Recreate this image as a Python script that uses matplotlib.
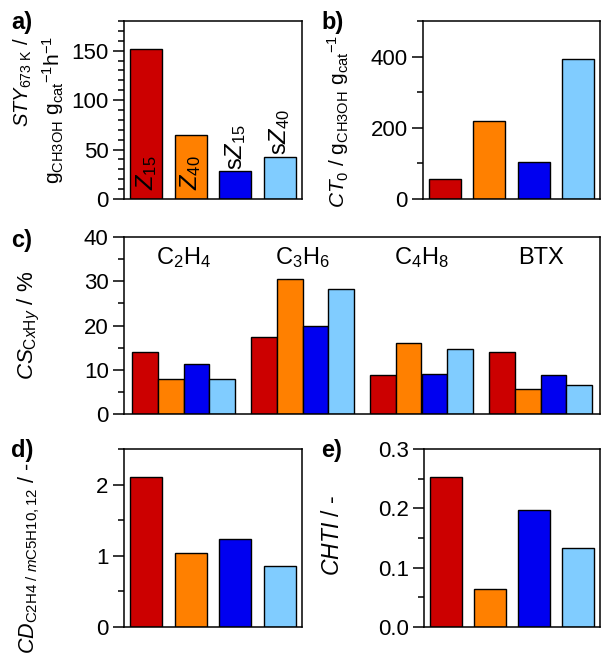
import matplotlib
matplotlib.use('Agg')
import matplotlib.pyplot as plt
import numpy as np

plt.rcParams['font.family'] = 'Liberation Sans'
plt.rcParams['mathtext.fontset'] = 'custom'
plt.rcParams['mathtext.rm'] = 'Liberation Sans'
plt.rcParams['mathtext.it'] = 'Liberation Sans:italic'
plt.rcParams['mathtext.bf'] = 'Liberation Sans:bold'

# ─── data ───
catalysts = ['Z15', 'Z40', 'sZ15', 'sZ40']
bar_labels = [r'$\mathit{Z}_{15}$', r'$\mathit{Z}_{40}$', r's$\mathit{Z}_{15}$', r's$\mathit{Z}_{40}$']
sty = [152, 65, 28, 42.5]          # a) STY_673K
ct0 = [56, 218, 103, 393]          # b) CT_0
products = [r'C$_2$H$_4$', r'C$_3$H$_6$', r'C$_4$H$_8$', 'BTX']
cs_z15 = [13.9, 17.5, 8.9, 13.9]   # c) carbon selectivity per product
cs_z40 = [8.0, 30.6, 16.0, 5.7]
cs_sz15 = [11.4, 20.0, 9.0, 8.9]
cs_sz40 = [7.8, 28.2, 14.8, 6.6]
cd = [2.10, 1.04, 1.23, 0.85]      # d) CD ratio
chti = [0.252, 0.064, 0.198, 0.133]  # e) CHTI

COLORS = ['#cc0000', '#ff8000', '#0000f0', '#80ccff']

W, H = 601, 656
fig = plt.figure(figsize=(W / 100, H / 100), dpi=100)


def px_axes(x0, y0, x1, y1):
    return fig.add_axes([x0 / W, 1 - y1 / H, (x1 - x0) / W, (y1 - y0) / H])


def style(ax, ylim, major, minor):
    ax.set_ylim(*ylim)
    ax.set_yticks(np.arange(ylim[0], ylim[1] + 1e-9, major))
    ax.set_yticks(np.arange(ylim[0], ylim[1] + 1e-9, minor), minor=True)
    ax.set_xticks([])
    ax.tick_params(axis='y', which='major', direction='out', length=8, width=1.1, labelsize=16, pad=3)
    ax.tick_params(axis='y', which='minor', direction='out', length=4, width=1.1)
    for s in ax.spines.values():
        s.set_linewidth(1.1)


def simple_bars(ax, vals):
    x = np.arange(len(vals))
    ax.bar(x, vals, width=0.72, color=COLORS, edgecolor='black', linewidth=1.0, zorder=2)
    ax.set_xlim(-0.5, len(vals) - 0.5)


# ─── a) ───
ax_a = px_axes(124, 21, 302, 199)
simple_bars(ax_a, sty)
style(ax_a, (0, 180), 50, 10)
ax_a.set_yticks([0, 50, 100, 150])
for i, (lab, v) in enumerate(zip(bar_labels, sty)):
    if i < 2:
        ax_a.text(i, 9, lab, rotation=90, ha='center', va='bottom', fontsize=17, zorder=3)
    else:
        ax_a.text(i, v + 1.5, lab, rotation=90, ha='center', va='bottom', fontsize=17, zorder=3)
fig.text(23 / W, 1 - 82 / H, r'$\mathit{STY}_{\mathrm{673\ K}}$ /', rotation=90,
         ha='center', va='center', fontsize=14.5)
fig.text(53 / W, 1 - 110 / H, r'g$_{\mathrm{CH3OH}}$ g$_{\mathrm{cat}}$$^{\mathrm{-1}}$h$^{\mathrm{-1}}$',
         rotation=90, ha='center', va='center', fontsize=15)

# ─── b) ───
ax_b = px_axes(423, 21, 600, 199)
simple_bars(ax_b, ct0)
style(ax_b, (0, 500), 200, 100)
ax_b.set_yticks([0, 200, 400])
fig.text(338 / W, 1 - 121 / H, r'$\mathit{CT}_0$ / g$_{\mathrm{CH3OH}}$ g$_{\mathrm{cat}}$$^{\mathrm{-1}}$',
         rotation=90, ha='center', va='center', fontsize=15)

# ─── c) ───
ax_c = px_axes(124, 237, 600, 414)
bw = 0.216
xg = np.arange(len(products))
for k, series in enumerate([cs_z15, cs_z40, cs_sz15, cs_sz40]):
    ax_c.bar(xg + (k - 1.5) * bw, series, width=bw, color=COLORS[k],
             edgecolor='black', linewidth=1.0, zorder=2)
ax_c.set_xlim(-0.5, 3.5)
style(ax_c, (0, 40), 10, 5)
for i, p in enumerate(products):
    ax_c.text(i, 35.3, p, ha='center', va='center', fontsize=17)
fig.text(29 / W, 1 - 325 / H, r'$\mathit{CS}_{\mathrm{C}\mathit{x}\mathrm{H}\mathit{y}}$ / %',
         rotation=90, ha='center', va='center', fontsize=16)

# ─── d) ───
ax_d = px_axes(124, 449, 302, 627)
simple_bars(ax_d, cd)
style(ax_d, (0, 2.5), 1, 0.5)
ax_d.set_yticks([0, 1, 2])
fig.text(29 / W, 1 - 558 / H,
         r'$\mathit{CD}_{\mathrm{C2H4\ /\ }\mathit{m}\mathrm{C5H10,12}}$ / -',
         rotation=90, ha='center', va='center', fontsize=15.5)

# ─── e) ───
ax_e = px_axes(424, 449, 600, 627)
simple_bars(ax_e, chti)
style(ax_e, (0, 0.3), 0.1, 0.05)
ax_e.set_yticks([0, 0.1, 0.2, 0.3])
ax_e.set_yticklabels(['0.0', '0.1', '0.2', '0.3'])
fig.text(333 / W, 1 - 535 / H, r'$\mathit{CHTI}$ / -',
         rotation=90, ha='center', va='center', fontsize=16.5)

# panel letters
for lab, (x, y) in {'a)': (11, 23), 'b)': (321, 23), 'c)': (11, 240),
                    'd)': (11, 450), 'e)': (321, 450)}.items():
    fig.text(x / W, 1 - y / H, lab, ha='left', va='center', fontsize=17, fontweight='bold')

fig.savefig('out.png', dpi=100, facecolor='white')
